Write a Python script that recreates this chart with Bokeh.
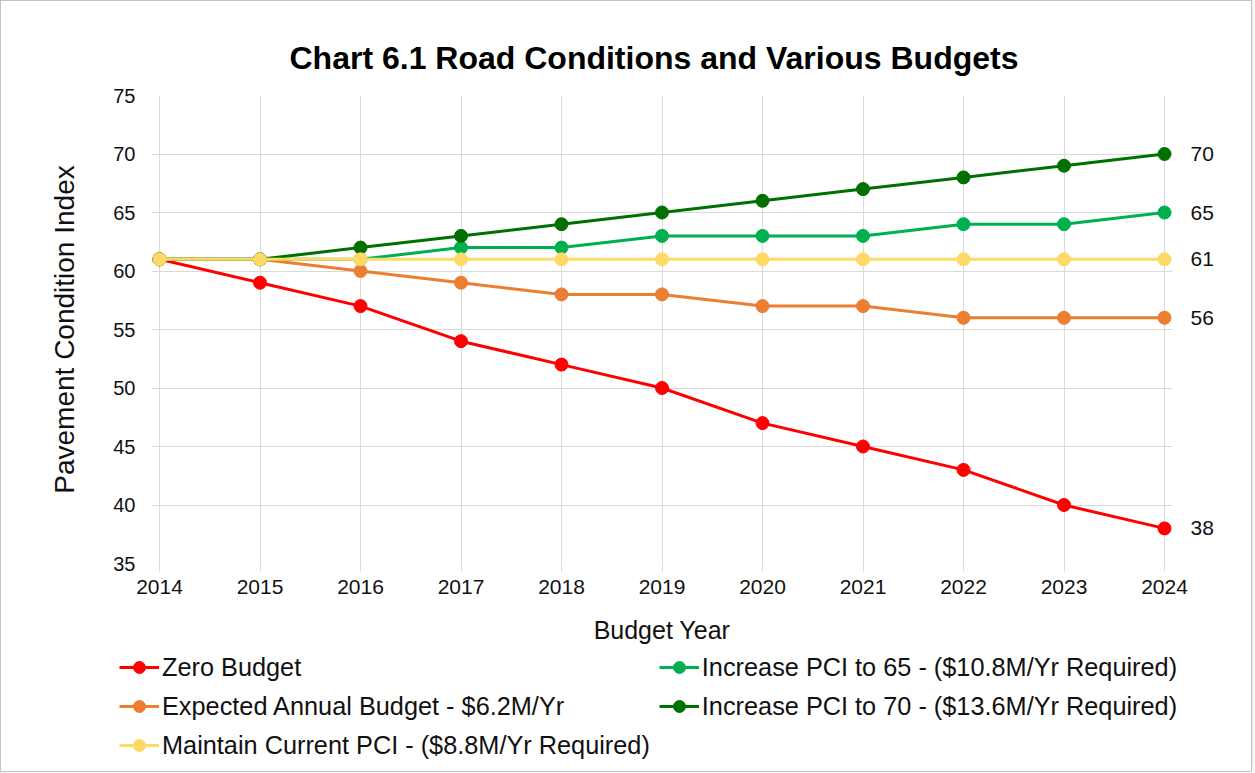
from bokeh.plotting import figure
from bokeh.layouts import column
from bokeh.models import (ColumnDataSource, Legend, LegendItem, LinearAxis,
                          FixedTicker, Range1d)
from bokeh.embed import file_html
from bokeh.resources import INLINE

years = [2014, 2015, 2016, 2017, 2018, 2019, 2020, 2021, 2022, 2023, 2024]
zero_budget = [61, 59, 57, 54, 52, 50, 47, 45, 43, 40, 38]
expected_budget = [61, 61, 60, 59, 58, 58, 57, 57, 56, 56, 56]
maintain_pci = [61, 61, 61, 61, 61, 61, 61, 61, 61, 61, 61]
increase_65 = [61, 61, 61, 62, 62, 63, 63, 63, 64, 64, 65]
increase_70 = [61, 61, 62, 63, 64, 65, 66, 67, 68, 69, 70]

series_names = [
    "Zero Budget",
    "Expected Annual Budget - $6.2M/Yr",
    "Maintain Current PCI - ($8.8M/Yr Required)",
    "Increase PCI to 65 - ($10.8M/Yr Required)",
    "Increase PCI to 70 - ($13.6M/Yr Required)",
]
series_values = [zero_budget, expected_budget, maintain_pci, increase_65, increase_70]
series_colors = ["#ff0000", "#ed7d31", "#ffd966", "#00b050", "#007000"]
y_ticks = [35, 40, 45, 50, 55, 60, 65, 70, 75]

FONT = "Liberation Sans"
GRID = "#d9d9d9"
TXT = "#111111"

# a little padding on both x ends so the end markers are not clipped;
# px per year is ~100.5 in the frame
PX_PER_YEAR = 100.5
x_lo = years[0] - 8 / PX_PER_YEAR
x_hi = years[-1] + 8 / PX_PER_YEAR

p = figure(width=1250, height=650, output_backend="svg", toolbar_location=None,
           x_range=Range1d(x_lo, x_hi), y_range=Range1d(35, 75),
           min_border_left=150, min_border_right=79, min_border_top=94,
           min_border_bottom=88,
           title="Chart 6.1 Road Conditions and Various Budgets")
p.outline_line_color = None
p.background_fill_color = "white"
p.border_fill_color = "white"

p.title.align = "left"
p.title.text_font = FONT
p.title.text_font_size = "32px"
p.title.text_font_style = "bold"
p.title.text_color = "black"
p.title.offset = 138
p.title.standoff = 40

p.xaxis.ticker = FixedTicker(ticks=years)
p.yaxis.ticker = FixedTicker(ticks=y_ticks)
for ax in (p.xaxis[0], p.yaxis[0]):
    ax.axis_line_color = None
    ax.minor_tick_line_color = None
    ax.major_label_text_font = FONT
    ax.major_label_text_color = TXT
    ax.axis_label_text_font = FONT
    ax.axis_label_text_font_style = "normal"
    ax.axis_label_text_color = TXT

p.xaxis.major_tick_line_color = GRID
p.xaxis.major_tick_in = 0
p.xaxis.major_tick_out = 8
p.yaxis.major_tick_line_color = None

p.xaxis.major_label_text_font_size = "21px"
p.yaxis.major_label_text_font_size = "20px"
p.xaxis.axis_label = "Budget Year"
p.yaxis.axis_label = "Pavement Condition Index"
p.xaxis.axis_label_text_font_size = "25px"
p.yaxis.axis_label_text_font_size = "28px"
p.xaxis.major_label_standoff = 8
p.xaxis.axis_label_standoff = 19
p.yaxis.major_label_standoff = 10
p.yaxis.axis_label_standoff = 30

p.xgrid.grid_line_color = GRID
p.ygrid.grid_line_color = GRID
p.xgrid.ticker = FixedTicker(ticks=years)
p.ygrid.ticker = FixedTicker(ticks=y_ticks)
p.ygrid.bounds = (x_lo, years[-1])

# end-value labels as a right-side axis
end_axis = LinearAxis(ticker=FixedTicker(ticks=[v[-1] for v in series_values]),
                      axis_line_color=None, major_tick_line_color=None,
                      minor_tick_line_color=None, major_label_standoff=12,
                      major_label_text_font=FONT, major_label_text_font_size="21px",
                      major_label_text_color=TXT)
p.add_layout(end_axis, "right")

draw_order = [0, 1, 3, 4, 2]
for i in draw_order:
    src = ColumnDataSource(dict(x=years, y=series_values[i]))
    p.line("x", "y", source=src, line_color=series_colors[i], line_width=3)
    p.scatter("x", "y", source=src, size=13, fill_color=series_colors[i],
              line_color=series_colors[i])

# legend panel (separate figure below the chart); its renderers hold the
# same series but lie outside its view, so only the legend shows
lg = figure(width=1250, height=120, output_backend="svg", toolbar_location=None,
            x_range=Range1d(0, 1), y_range=Range1d(0, 1),
            min_border_left=0, min_border_right=0, min_border_top=0,
            min_border_bottom=0, x_axis_location=None, y_axis_location=None)
lg.outline_line_color = None
lg.xgrid.visible = False
lg.ygrid.visible = False
items = []
for name, color, vals in zip(series_names, series_colors, series_values):
    src = ColumnDataSource(dict(x=years, y=vals))
    ln = lg.line("x", "y", source=src, line_color=color, line_width=3)
    sc = lg.scatter("x", "y", source=src, size=13, fill_color=color,
                    line_color=color)
    items.append(LegendItem(label=name, renderers=[ln, sc], index=0))

legend = Legend(items=items, location=(118, 11), nrows=3,
                orientation="vertical",
                label_text_font=FONT, label_text_font_size="25.3px",
                label_text_color=TXT,
                glyph_width=40, glyph_height=30, label_height=30,
                label_standoff=3, spacing=9, padding=0, margin=0,
                border_line_color=None, background_fill_alpha=0)
lg.add_layout(legend, "center")

p.frame_align = False
lg.frame_align = False

layout = column(p, lg, spacing=0,
                styles={"border": "1px solid #c4c4c4",
                        "box-shadow": "-2px -4px 6px rgba(0,0,0,0.35)"})

open("out.html", "w").write(file_html(layout, INLINE))
